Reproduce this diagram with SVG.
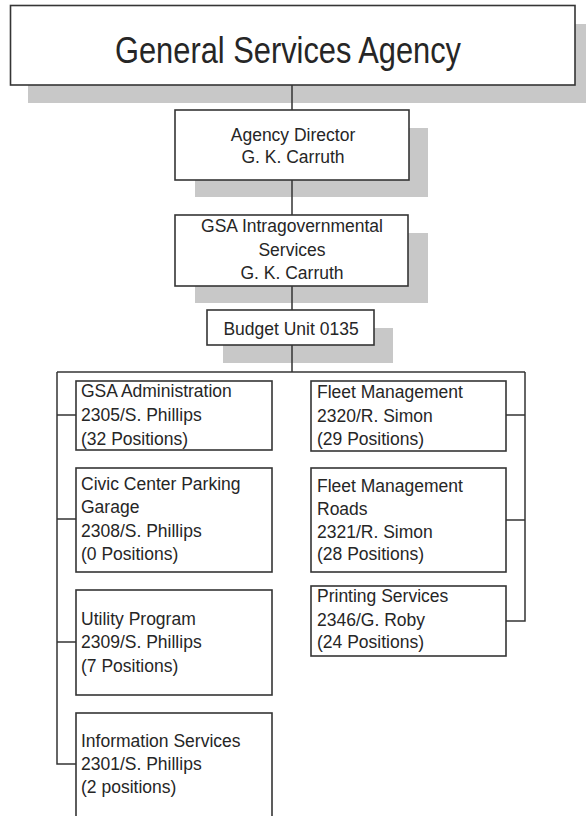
<svg xmlns="http://www.w3.org/2000/svg" width="586" height="816" viewBox="0 0 586 816">
  <style>
    .shadow { fill: #c8c8c8; }
    .box { fill: #ffffff; stroke: #353535; stroke-width: 1.6; }
    .wire { fill: none; stroke: #353535; stroke-width: 1.5; }
    text { font-family: "Liberation Sans", Arial, sans-serif; fill: #262626; font-size: 17.5px; }
    .c { text-anchor: middle; }
    .title { font-size: 37px; }
  </style>

  <rect width="586" height="816" fill="#ffffff"/>

  <!-- top level -->
  <g id="agency">
    <rect class="shadow" x="28" y="24" width="558" height="79"/>
    <rect class="box" x="10.5" y="5.5" width="564.5" height="79.5"/>
    <text class="c title" x="288" y="63" textLength="346" lengthAdjust="spacingAndGlyphs">General Services Agency</text>
  </g>

  <g id="director">
    <rect class="shadow" x="195" y="128" width="233" height="69"/>
    <rect class="box" x="175" y="110" width="234" height="70"/>
    <text class="c" x="293" y="141">Agency Director</text>
    <text class="c" x="293" y="163">G. K. Carruth</text>
  </g>

  <g id="intragov">
    <rect class="shadow" x="195" y="233" width="233" height="70"/>
    <rect class="box" x="175" y="215" width="233" height="71"/>
    <text class="c" x="292" y="232">GSA Intragovernmental</text>
    <text class="c" x="292" y="256">Services</text>
    <text class="c" x="292" y="279">G. K. Carruth</text>
  </g>

  <g id="budget">
    <rect class="shadow" x="223" y="328" width="170" height="35"/>
    <rect class="box" x="207" y="310" width="167" height="35"/>
    <text class="c" x="291" y="335">Budget Unit 0135</text>
  </g>

  <!-- left column -->
  <g id="gsa-admin">
    <rect class="box" x="76" y="381" width="196" height="69"/>
    <text x="81" y="397">GSA Administration</text>
    <text x="81" y="421">2305/S. Phillips</text>
    <text x="81" y="445">(32 Positions)</text>
  </g>

  <g id="parking">
    <rect class="box" x="76" y="468" width="196" height="104"/>
    <text x="81" y="490">Civic Center Parking</text>
    <text x="81" y="513">Garage</text>
    <text x="81" y="537">2308/S. Phillips</text>
    <text x="81" y="560">(0 Positions)</text>
  </g>

  <g id="utility">
    <rect class="box" x="76" y="590" width="196" height="105"/>
    <text x="81" y="625">Utility Program</text>
    <text x="81" y="648">2309/S. Phillips</text>
    <text x="81" y="672">(7 Positions)</text>
  </g>

  <g id="info">
    <rect class="box" x="76" y="713" width="196" height="120"/>
    <text x="81" y="747">Information Services</text>
    <text x="81" y="770">2301/S. Phillips</text>
    <text x="81" y="793">(2 positions)</text>
  </g>

  <!-- right column -->
  <g id="fleet">
    <rect class="box" x="311" y="381" width="195" height="70"/>
    <text x="317" y="398">Fleet Management</text>
    <text x="317" y="422">2320/R. Simon</text>
    <text x="317" y="445">(29 Positions)</text>
  </g>

  <g id="fleet-roads">
    <rect class="box" x="311" y="468" width="195" height="104"/>
    <text x="317" y="492">Fleet Management</text>
    <text x="317" y="515">Roads</text>
    <text x="317" y="538">2321/R. Simon</text>
    <text x="317" y="560">(28 Positions)</text>
  </g>

  <g id="printing">
    <rect class="box" x="311" y="586" width="195" height="70"/>
    <text x="317" y="602">Printing Services</text>
    <text x="317" y="626">2346/G. Roby</text>
    <text x="317" y="648">(24 Positions)</text>
  </g>

  <!-- reporting lines -->
  <g id="connectors" class="wire">
    <path d="M292,85 V110 M292,180 V215 M292,286 V310 M292,345 V372"/>
    <path d="M57,372 H525"/>
    <path d="M57,372 V764 H76 M57,415 H76 M57,519 H76 M57,642 H76"/>
    <path d="M525,372 V621 H506 M525,415 H506 M525,520 H506"/>
  </g>
</svg>
